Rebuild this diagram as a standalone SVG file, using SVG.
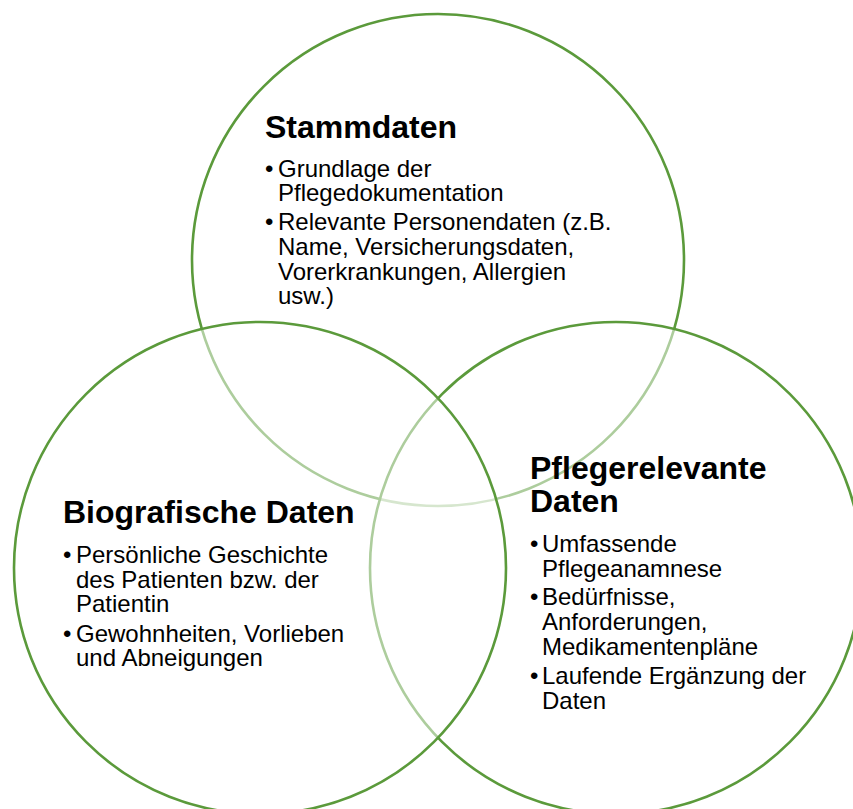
<svg xmlns="http://www.w3.org/2000/svg" width="853" height="809" viewBox="0 0 853 809">
<style>
.c{fill:#fff;fill-opacity:0.5;stroke:#5B9A3B;stroke-width:2.6}
.t{font-family:"Liberation Sans",Arial,sans-serif;font-weight:bold;font-size:32px;fill:#000}
.b{font-family:"Liberation Sans",Arial,sans-serif;font-size:24px;fill:#000}
</style>
<rect width="853" height="809" fill="#fff"/>
<g id="stammdaten">
<circle class="c" cx="438" cy="260" r="246"/>
<text class="t" x="265" y="138">Stammdaten</text>
<text class="b"><tspan x="265" y="177">•</tspan><tspan x="278" y="177">Grundlage der</tspan><tspan x="278" y="201">Pflegedokumentation</tspan></text>
<text class="b"><tspan x="265" y="230">•</tspan><tspan x="278" y="230">Relevante Personendaten (z.B.</tspan><tspan x="278" y="255">Name, Versicherungsdaten,</tspan><tspan x="278" y="280">Vorerkrankungen, Allergien</tspan><tspan x="278" y="304">usw.)</tspan></text>
</g>
<g id="pflegerelevante">
<circle class="c" cx="616" cy="568" r="246"/>
<text class="t"><tspan x="530" y="479">Pflegerelevante</tspan><tspan x="530" y="512">Daten</tspan></text>
<text class="b"><tspan x="530" y="552">•</tspan><tspan x="542" y="552">Umfassende</tspan><tspan x="542" y="577">Pflegeanamnese</tspan></text>
<text class="b"><tspan x="530" y="605">•</tspan><tspan x="542" y="605">Bedürfnisse,</tspan><tspan x="542" y="630">Anforderungen,</tspan><tspan x="542" y="655">Medikamentenpläne</tspan></text>
<text class="b"><tspan x="530" y="684">•</tspan><tspan x="542" y="684">Laufende Ergänzung der</tspan><tspan x="542" y="709">Daten</tspan></text>
</g>
<g id="biografische">
<circle class="c" cx="260" cy="568" r="246"/>
<text class="t" x="63" y="523">Biografische Daten</text>
<text class="b"><tspan x="63" y="563">•</tspan><tspan x="76" y="563">Persönliche Geschichte</tspan><tspan x="76" y="588">des Patienten bzw. der</tspan><tspan x="76" y="612">Patientin</tspan></text>
<text class="b"><tspan x="63" y="642">•</tspan><tspan x="76" y="642">Gewohnheiten, Vorlieben</tspan><tspan x="76" y="666">und Abneigungen</tspan></text>
</g>
<g id="connectors"></g>
</svg>
